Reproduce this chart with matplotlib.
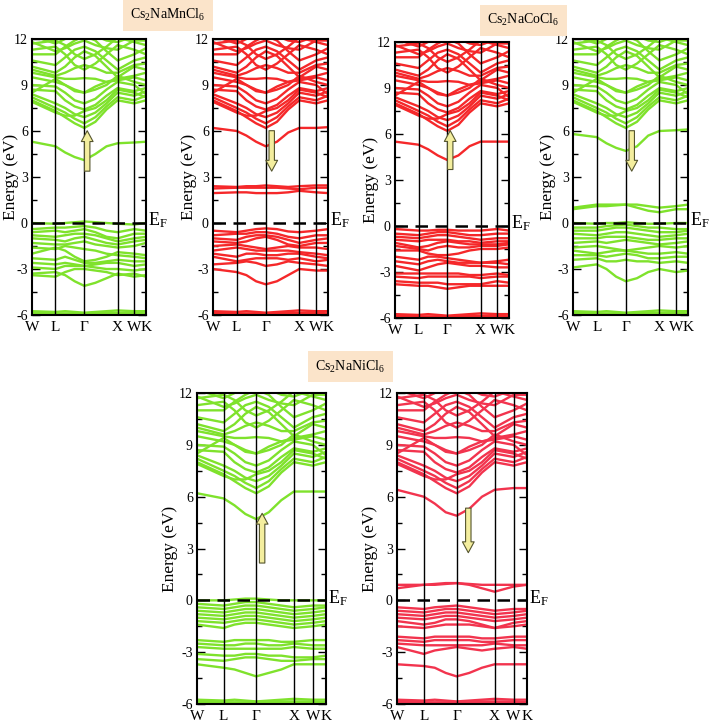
import matplotlib
matplotlib.use("Agg")
import matplotlib.pyplot as plt
from matplotlib.ticker import MultipleLocator
import matplotlib.transforms as mtransforms

plt.rcParams["font.family"] = "serif"
plt.rcParams["font.serif"] = ["Liberation Serif", "DejaVu Serif"]
plt.rcParams["mathtext.fontset"] = "custom"
plt.rcParams["mathtext.rm"] = "Liberation Serif"
plt.rcParams["mathtext.it"] = "Liberation Serif:italic"
plt.rcParams["axes.unicode_minus"] = False

# k-path W-L-G-X-W-K (units of 2pi/a)
k_labels = ["W", "L", "Γ", "X", "W", "K"]
k_ticks = [0.0, 0.707, 1.573, 2.573, 3.073, 3.427]
k = [0.0, 0.707, 0.996, 1.284, 1.573, 1.906, 2.240, 2.573, 3.073, 3.427]

# host conduction bands (Cs/Na/Cl states), nearly identical in all panels
cond_host = [
    [8.0, 7.3, 6.9, 6.5, 6.2, 6.6, 7.4, 8.0, 7.8, 8.0],
    [8.2, 7.5, 7.2, 6.8, 6.5, 6.9, 7.6, 8.2, 8.0, 8.3],
    [8.4, 7.8, 7.5, 7.1, 6.9, 7.2, 7.8, 8.5, 8.3, 8.6],
    [7.9, 7.2, 7.0, 7.0, 7.3, 7.5, 8.0, 8.7, 8.5, 8.2],
    [8.7, 8.6, 8.0, 7.6, 7.4, 7.7, 8.3, 8.8, 8.6, 8.8],
    [9.0, 8.9, 8.5, 8.0, 7.8, 8.1, 8.7, 9.2, 9.0, 8.4],
    [8.5, 9.4, 9.0, 8.7, 8.5, 8.7, 9.0, 9.6, 9.2, 9.0],
    [9.5, 9.2, 9.0, 8.6, 8.5, 8.9, 9.2, 9.3, 9.5, 9.3],
    [9.8, 9.5, 9.4, 9.4, 9.45, 9.4, 9.2, 9.4, 9.6, 9.8],
    [10.0, 9.6, 9.8, 10.1, 10.3, 10.1, 9.8, 9.8, 10.3, 10.4],
    [10.2, 9.8, 10.2, 10.8, 11.2, 10.9, 10.2, 9.5, 10.2, 10.0],
    [10.6, 10.3, 10.8, 11.3, 11.5, 11.2, 10.6, 10.0, 10.6, 10.8],
    [11.3, 11.5, 11.0, 10.3, 10.0, 10.4, 11.0, 11.6, 11.3, 11.0],
    [11.0, 11.0, 11.5, 11.9, 12.2, 11.9, 11.2, 10.6, 11.0, 11.4],
    [11.7, 11.9, 11.6, 11.0, 10.7, 11.0, 11.5, 12.1, 11.8, 11.6],
    [11.8, 11.2, 11.4, 11.7, 11.9, 11.6, 11.4, 11.3, 11.9, 11.9],
    [12.2, 11.7, 12.0, 12.3, 12.4, 12.2, 11.9, 11.8, 12.2, 12.1],
]

# Cl-3s semicore bands at the bottom
semicore = [
    [-5.75, -5.8, -5.75, -5.8, -5.85, -5.8, -5.75, -5.7, -5.75, -5.75],
    [-5.85, -5.9, -5.9, -5.9, -5.95, -5.9, -5.85, -5.85, -5.85, -5.9],
    [-5.95, -5.95, -5.95, -5.95, -5.95, -5.95, -5.95, -5.95, -5.95, -5.95],
]

mn_up_bands = [
    [5.3, 5.0, 4.6, 4.3, 4.1, 4.5, 5.0, 5.2, 5.25, 5.3],
    [0.0, -0.05, 0.0, 0.05, 0.1, 0.05, 0.0, -0.05, -0.1, 0.0],
    [-0.4, -0.3, -0.3, -0.25, -0.2, -0.3, -0.5, -0.6, -0.4, -0.5],
    [-0.6, -0.5, -0.6, -0.5, -0.4, -0.6, -0.9, -1.0, -0.7, -0.7],
    [-0.8, -0.9, -0.8, -0.7, -0.7, -0.8, -1.0, -1.2, -1.0, -0.9],
    [-1.0, -1.1, -1.2, -1.0, -0.9, -1.1, -1.3, -1.4, -1.2, -1.1],
    [-1.3, -1.4, -1.4, -1.3, -1.2, -1.4, -1.5, -1.6, -1.5, -1.3],
    [-1.6, -1.7, -1.5, -1.6, -1.7, -1.8, -2.0, -2.1, -2.2, -2.3],
    [-2.0, -1.6, -1.8, -2.2, -2.5, -2.4, -2.2, -1.9, -2.0, -2.1],
    [-2.3, -2.4, -2.2, -2.4, -2.6, -2.6, -2.5, -2.4, -2.5, -2.5],
    [-2.6, -2.7, -2.6, -2.7, -2.8, -2.7, -2.6, -2.6, -2.8, -2.7],
    [-2.9, -3.0, -2.8, -2.8, -2.8, -2.9, -3.0, -3.0, -3.1, -3.0],
    [-3.3, -3.2, -3.4, -3.8, -4.1, -3.9, -3.6, -3.3, -3.5, -3.4],
    [-3.4, -3.5, -3.2, -3.0, -3.0, -3.1, -3.2, -3.4, -3.3, -3.5],
]

mn_dn_bands = [
    [6.2, 6.0, 5.7, 5.3, 5.0, 5.3, 5.9, 6.2, 6.2, 6.25],
    [1.95, 2.0, 2.0, 1.95, 1.95, 1.95, 2.0, 2.1, 2.0, 1.95],
    [2.25, 2.3, 2.3, 2.3, 2.3, 2.3, 2.25, 2.2, 2.3, 2.3],
    [2.4, 2.35, 2.4, 2.4, 2.45, 2.4, 2.35, 2.4, 2.45, 2.45],
    [-0.5, -0.6, -0.5, -0.4, -0.35, -0.4, -0.55, -0.6, -0.5, -0.4],
    [-0.8, -0.7, -0.7, -0.6, -0.6, -0.7, -0.9, -1.0, -0.8, -0.8],
    [-1.0, -1.1, -0.9, -0.8, -0.8, -0.9, -1.1, -1.3, -1.1, -1.0],
    [-1.2, -1.3, -1.2, -1.0, -0.9, -1.1, -1.4, -1.5, -1.3, -1.3],
    [-1.5, -1.4, -1.5, -1.6, -1.7, -1.6, -1.5, -1.6, -1.6, -1.7],
    [-1.8, -1.6, -1.7, -1.8, -1.8, -1.8, -1.8, -1.9, -2.0, -2.1],
    [-2.0, -2.2, -2.0, -2.0, -2.1, -2.1, -2.0, -2.0, -2.2, -2.3],
    [-2.2, -2.5, -2.4, -2.3, -2.3, -2.3, -2.4, -2.3, -2.5, -2.4],
    [-2.7, -2.6, -2.5, -2.6, -2.8, -2.7, -2.5, -2.6, -2.7, -2.8],
    [-3.0, -3.2, -3.4, -3.8, -4.0, -3.8, -3.4, -3.0, -3.1, -3.1],
]

co_up_bands = [
    [5.5, 5.3, 5.0, 4.6, 4.3, 4.6, 5.2, 5.5, 5.5, 5.5],
    [-0.2, -0.3, -0.3, -0.25, -0.25, -0.3, -0.3, -0.3, -0.2, -0.3],
    [-0.5, -0.6, -0.5, -0.4, -0.4, -0.5, -0.6, -0.6, -0.5, -0.5],
    [-0.7, -0.8, -0.7, -0.6, -0.6, -0.7, -0.8, -0.9, -0.8, -0.8],
    [-0.9, -1.0, -0.9, -0.9, -0.9, -1.0, -1.0, -1.1, -1.0, -1.0],
    [-1.1, -1.4, -1.3, -1.1, -1.0, -1.1, -1.2, -1.2, -1.2, -1.1],
    [-1.3, -1.5, -1.6, -1.4, -1.3, -1.4, -1.4, -1.3, -1.3, -1.2],
    [-1.6, -1.6, -1.8, -1.9, -1.9, -1.8, -1.6, -1.5, -1.5, -1.4],
    [-2.0, -2.2, -2.0, -2.0, -2.1, -2.2, -2.3, -2.4, -2.3, -2.2],
    [-2.3, -2.5, -2.3, -2.2, -2.3, -2.4, -2.4, -2.4, -2.4, -2.5],
    [-2.6, -2.9, -2.7, -2.5, -2.4, -2.5, -2.6, -2.6, -2.7, -2.7],
    [-3.1, -3.1, -3.1, -3.1, -3.1, -3.1, -3.2, -3.2, -3.1, -3.2],
    [-3.3, -3.4, -3.3, -3.3, -3.3, -3.3, -3.3, -3.4, -3.3, -3.3],
    [-3.6, -3.7, -3.7, -3.7, -3.8, -3.8, -3.8, -3.8, -3.6, -3.7],
    [-3.8, -3.9, -3.9, -4.0, -4.1, -4.0, -3.9, -3.9, -3.9, -3.9],
]

co_dn_bands = [
    [5.8, 5.6, 5.2, 4.9, 4.7, 5.0, 5.7, 6.0, 6.05, 6.1],
    [1.0, 1.2, 1.2, 1.2, 1.2, 1.2, 1.1, 1.0, 1.1, 1.2],
    [0.9, 1.1, 1.1, 1.15, 1.2, 1.0, 0.8, 0.7, 0.9, 0.9],
    [0.0, -0.05, 0.0, 0.0, 0.05, 0.0, -0.05, -0.05, 0.0, 0.0],
    [-0.3, -0.3, -0.2, -0.15, -0.1, -0.2, -0.3, -0.3, -0.4, -0.4],
    [-0.5, -0.5, -0.4, -0.3, -0.3, -0.4, -0.5, -0.6, -0.6, -0.5],
    [-0.7, -0.8, -0.7, -0.6, -0.6, -0.7, -0.8, -0.9, -0.8, -0.7],
    [-1.0, -1.0, -0.9, -0.9, -0.9, -1.0, -1.1, -1.1, -1.0, -1.0],
    [-1.3, -1.2, -1.3, -1.2, -1.1, -1.2, -1.3, -1.4, -1.3, -1.2],
    [-1.6, -1.5, -1.6, -1.7, -1.8, -1.7, -1.6, -1.5, -1.6, -1.5],
    [-1.8, -2.0, -1.9, -1.8, -1.8, -1.9, -2.0, -2.0, -1.9, -2.0],
    [-2.1, -2.1, -2.2, -2.1, -2.0, -2.1, -2.3, -2.3, -2.2, -2.2],
    [-2.4, -2.3, -2.5, -2.5, -2.4, -2.5, -2.5, -2.6, -2.5, -2.6],
    [-2.9, -2.7, -3.0, -3.5, -3.8, -3.6, -3.2, -3.0, -3.2, -3.1],
]

ni_up_bands = [
    [6.2, 5.9, 5.5, 5.0, 4.7, 5.1, 5.8, 6.3, 6.3, 6.3],
    [0.0, 0.0, 0.05, 0.1, 0.1, 0.05, 0.0, 0.0, 0.0, 0.0],
    [-0.2, -0.3, -0.2, -0.1, -0.1, -0.2, -0.3, -0.4, -0.3, -0.3],
    [-0.4, -0.5, -0.4, -0.3, -0.3, -0.4, -0.5, -0.6, -0.5, -0.4],
    [-0.6, -0.7, -0.6, -0.5, -0.5, -0.6, -0.7, -0.8, -0.7, -0.6],
    [-0.8, -0.9, -0.8, -0.7, -0.7, -0.8, -0.9, -1.0, -0.9, -0.8],
    [-1.0, -1.1, -1.0, -0.9, -0.9, -1.0, -1.1, -1.2, -1.1, -1.0],
    [-1.2, -1.3, -1.2, -1.1, -1.1, -1.2, -1.3, -1.4, -1.3, -1.2],
    [-1.4, -1.6, -1.4, -1.3, -1.3, -1.4, -1.5, -1.6, -1.5, -1.4],
    [-2.3, -2.4, -2.3, -2.3, -2.3, -2.3, -2.4, -2.4, -2.3, -2.3],
    [-2.5, -2.6, -2.6, -2.5, -2.5, -2.6, -2.6, -2.5, -2.6, -2.6],
    [-2.7, -2.8, -2.8, -2.8, -2.8, -2.8, -2.8, -2.7, -2.8, -2.8],
    [-3.1, -3.2, -3.2, -3.1, -3.1, -3.2, -3.2, -3.3, -3.3, -3.2],
    [-3.4, -3.5, -3.4, -3.3, -3.3, -3.4, -3.5, -3.5, -3.4, -3.4],
    [-3.7, -3.9, -4.0, -4.2, -4.4, -4.2, -4.0, -3.7, -3.7, -3.7],
]

ni_dn_bands = [
    [6.4, 6.0, 5.6, 5.1, 4.9, 5.3, 6.0, 6.4, 6.5, 6.5],
    [0.7, 0.9, 0.95, 1.0, 1.0, 0.9, 0.7, 0.5, 0.8, 0.9],
    [0.9, 0.9, 0.9, 0.95, 1.0, 0.95, 0.9, 0.9, 0.9, 0.9],
    [-0.4, -0.5, -0.4, -0.35, -0.3, -0.4, -0.5, -0.6, -0.5, -0.5],
    [-0.6, -0.7, -0.6, -0.5, -0.5, -0.6, -0.7, -0.8, -0.7, -0.6],
    [-0.8, -0.9, -0.8, -0.7, -0.7, -0.8, -0.9, -1.0, -0.9, -0.8],
    [-1.0, -1.1, -1.0, -0.9, -0.9, -1.0, -1.1, -1.2, -1.1, -1.0],
    [-1.2, -1.4, -1.3, -1.1, -1.1, -1.2, -1.4, -1.6, -1.3, -1.2],
    [-1.5, -1.6, -1.5, -1.4, -1.4, -1.4, -1.5, -1.6, -1.5, -1.4],
    [-2.1, -2.2, -2.1, -2.1, -2.1, -2.1, -2.2, -2.2, -2.1, -2.1],
    [-2.3, -2.4, -2.3, -2.3, -2.3, -2.3, -2.4, -2.4, -2.3, -2.3],
    [-2.5, -2.6, -2.6, -2.6, -2.6, -2.6, -2.6, -2.5, -2.6, -2.6],
    [-2.7, -3.1, -2.9, -2.8, -2.7, -2.8, -2.9, -2.8, -2.7, -2.8],
    [-3.7, -3.8, -3.9, -4.2, -4.4, -4.2, -3.9, -3.7, -3.7, -3.7],
]

GREEN = "#7fe22c"
RED = "#f5282a"
RED2 = "#f2344e"

# (bands, colour, axes rect, ylabel offset px, arrow k, arrow start, arrow end)
panels = [
    (mn_up_bands, GREEN, [0.0451, 0.5637, 0.1608, 0.3823], 13, 1.66, 3.2, 6.2),
    (mn_dn_bands, RED, [0.3004, 0.5637, 0.1622, 0.3823], 16, 1.75, 6.2, 3.2),
    (co_up_bands, RED, [0.5571, 0.5596, 0.1608, 0.3823], 16, 1.66, 3.5, 6.4),
    (co_dn_bands, GREEN, [0.8082, 0.5637, 0.1622, 0.3823], 17, 1.75, 6.2, 3.2),
    (ni_up_bands, GREEN, [0.2779, 0.0249, 0.1819, 0.4307], 19, 1.73, 2.0, 5.2),
    (ni_dn_bands, RED2, [0.5599, 0.0249, 0.1834, 0.4307], 19, 1.88, 5.5, 2.6),
]

titles = [
    (r"Cs$_2$NaMnCl$_6$", 0.237, 0.979),
    (r"Cs$_2$NaCoCl$_6$", 0.738, 0.972),
    (r"Cs$_2$NaNiCl$_6$", 0.494, 0.492),
]

fig = plt.figure(figsize=(7.09, 7.22), dpi=100)

for bands, color, rect, lab_off, ak, a0, a1 in panels:
    ax = fig.add_axes(rect)
    for b in cond_host + semicore + bands:
        ax.plot(k, b, color=color, lw=1.7, solid_joinstyle="round")
    for kt in k_ticks[1:-1]:
        ax.axvline(kt, color="black", lw=1.0)
    ax.axhline(0, color="black", lw=1.8, dashes=(5, 3))
    ax.set_xlim(k_ticks[0], k_ticks[-1])
    ax.set_ylim(-6, 12)
    ax.set_xticks(k_ticks)
    ax.set_xticklabels(k_labels, fontsize=11)
    ax.tick_params(axis="x", length=0, pad=4)
    ax.yaxis.set_major_locator(MultipleLocator(3))
    ax.yaxis.set_minor_locator(MultipleLocator(1.5))
    ax.tick_params(axis="y", which="major", direction="in", length=6, width=1,
                   left=True, right=True, labelsize=10, pad=3)
    ax.tick_params(axis="y", which="minor", direction="in", length=3.5, width=1,
                   left=True, right=True)
    for s in ax.spines.values():
        s.set_linewidth(1.5)
    ax.set_ylabel("Energy (eV)", fontsize=12.5)
    ax.yaxis.set_label_coords(-lab_off / (rect[2] * 709), 0.5)
    trans = mtransforms.blended_transform_factory(ax.transAxes, ax.transData)
    ax.text(1.015, -0.15, r"E$_\mathrm{F}$", transform=trans, fontsize=13,
            va="baseline", ha="left")
    ax.annotate("", xy=(ak, a1), xytext=(ak, a0),
                arrowprops=dict(arrowstyle="simple,head_width=0.65,head_length=0.6,tail_width=0.3",
                                mutation_scale=13, fc="#f4ee9e", ec="#55552e", lw=0.8))

for txt, x, y in titles:
    fig.text(x, y, txt, fontsize=10, ha="center", va="center",
             bbox=dict(boxstyle="square,pad=0.55", fc="#fbe4ca", ec="none"))

fig.savefig("out.png", dpi=100)
